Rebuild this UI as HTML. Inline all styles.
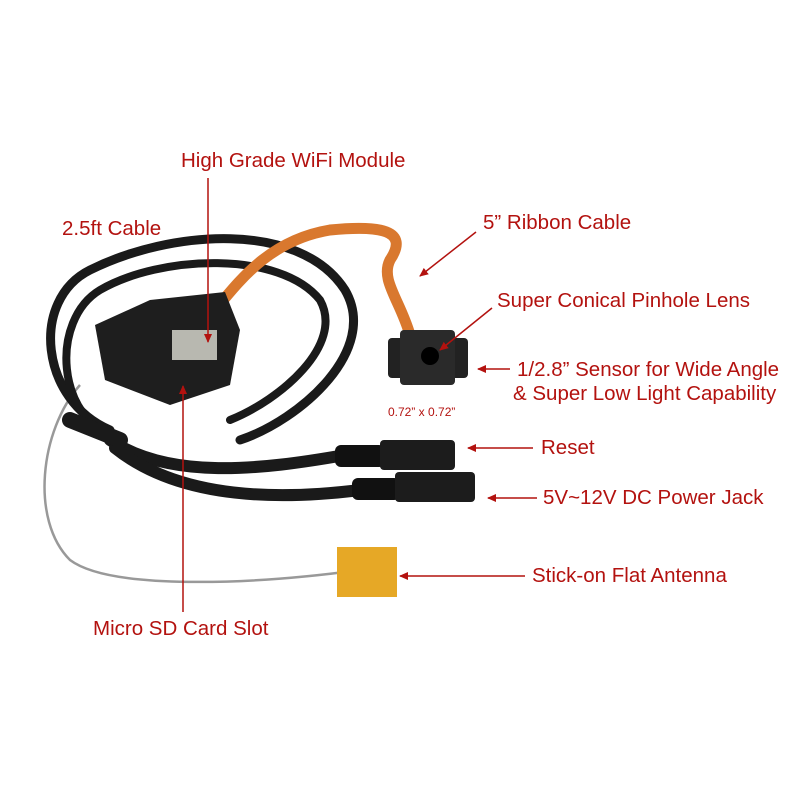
<!DOCTYPE html>
<html><head><style>
body{margin:0;background:#fff}
svg{display:block}
text{font-family:"Liberation Sans",sans-serif;fill:#b3120f;font-size:20.5px}
</style></head><body>
<svg width="800" height="800" viewBox="0 0 800 800" xmlns="http://www.w3.org/2000/svg">
<defs><marker id="a" markerWidth="10" markerHeight="10" refX="8" refY="5" orient="auto" markerUnits="userSpaceOnUse"><path d="M0,1 L9,5 L0,9 Z" fill="#b3120f"/></marker></defs>
<path d="M80,385 C40,430 30,520 70,560 C110,590 250,585 360,570" stroke="#999" stroke-width="2.5" fill="none"/>
<g fill="none" stroke="#1a1a1a" stroke-linecap="round">
<path d="M110,430 C40,400 30,300 90,270 C170,230 300,220 345,290 C380,350 300,420 240,440" stroke-width="9"/>
<path d="M120,440 C55,420 50,320 100,290 C160,255 280,250 320,300 C345,345 280,400 230,420" stroke-width="8"/>
<path d="M110,440 C170,480 260,470 345,455" stroke-width="12"/>
<path d="M115,448 C180,500 280,500 360,490" stroke-width="12"/>
<path d="M70,420 L120,440" stroke-width="16"/>
</g>
<rect x="335" y="445" width="50" height="22" rx="6" fill="#111"/>
<rect x="380" y="440" width="75" height="30" rx="4" fill="#1c1c1c"/>
<rect x="352" y="478" width="48" height="22" rx="6" fill="#111"/>
<rect x="395" y="472" width="80" height="30" rx="4" fill="#1c1c1c"/>
<path d="M215,310 C240,280 270,240 330,230 C380,225 410,230 390,260 C380,280 400,300 410,335" stroke="#d9782e" stroke-width="11" fill="none"/>
<path d="M95,325 L150,300 L225,292 L240,330 L230,385 L170,405 L105,380 Z" fill="#1e1e1e"/>
<rect x="172" y="330" width="45" height="30" fill="#b8b8b0"/>
<rect x="388" y="338" width="80" height="40" rx="4" fill="#222"/>
<rect x="400" y="330" width="55" height="55" rx="4" fill="#2a2a2a"/>
<circle cx="430" cy="356" r="9" fill="#000"/>
<rect x="337" y="547" width="60" height="50" fill="#e6a826"/>
<text x="181" y="167">High Grade WiFi Module</text>
<text x="62" y="235">2.5ft Cable</text>
<text x="483" y="229">5” Ribbon Cable</text>
<text x="497" y="307">Super Conical Pinhole Lens</text>
<text x="517" y="376">1/2.8” Sensor for Wide Angle</text>
<text x="513" y="400">&amp; Super Low Light Capability</text>
<text x="388" y="416" style="font-size:12px">0.72” x 0.72”</text>
<text x="541" y="454">Reset</text>
<text x="543" y="504">5V~12V DC Power Jack</text>
<text x="532" y="582">Stick-on Flat Antenna</text>
<text x="93" y="635">Micro SD Card Slot</text>
<g stroke="#b3120f" stroke-width="1.5" marker-end="url(#a)">
<line x1="208" y1="178" x2="208" y2="342"/>
<line x1="183" y1="612" x2="183" y2="386"/>
<line x1="476" y1="232" x2="420" y2="276"/>
<line x1="492" y1="308" x2="440" y2="350"/>
<line x1="510" y1="369" x2="478" y2="369"/>
<line x1="533" y1="448" x2="468" y2="448"/>
<line x1="537" y1="498" x2="488" y2="498"/>
<line x1="525" y1="576" x2="400" y2="576"/>
</g>
</svg>
</body></html>
